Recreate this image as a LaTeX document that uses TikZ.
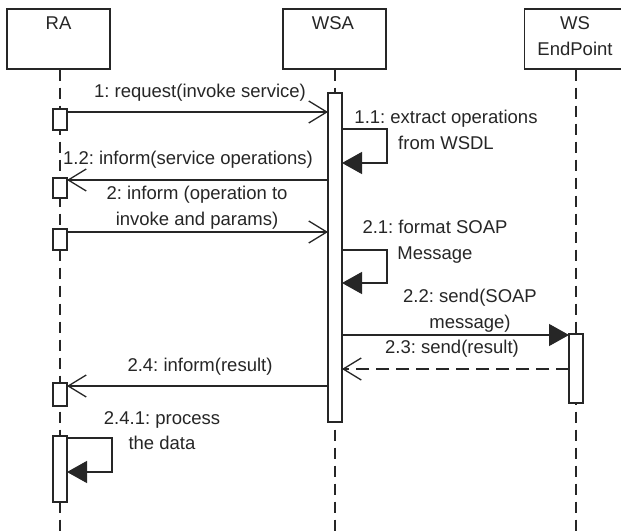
\documentclass[tikz,border=0pt]{standalone}
\usepackage{fontspec}
\setmainfont{Liberation Sans}
\usetikzlibrary{arrows.meta}
\definecolor{ink}{HTML}{262626}
\frenchspacing
\tikzset{
  every node/.style={font=\fontsize{18.5}{25.5}\selectfont, text=ink},
  headbox/.style={draw=ink, line width=1.3pt, minimum width=103pt, minimum height=60pt, inner sep=0pt, fill=white},
  actbox/.style={draw=ink, line width=1.3pt, minimum width=14pt, inner sep=0pt, fill=white},
  lifeline/.style={draw=ink, line width=1.3pt, dash pattern=on 11pt off 7pt},
  msg/.style={draw=ink, line width=1.3pt, -{Straight Barb[length=18pt,width=22pt,line width=1.3pt]}},
  callmsg/.style={draw=ink, line width=1.3pt, -{Triangle[length=20pt,width=22pt]}},
  retmsg/.style={draw=ink, line width=1.3pt, dash pattern=on 13pt off 7pt, -{Straight Barb[length=18pt,width=22pt,line width=1.3pt]}},
  lbl/.style={align=center, inner sep=0pt}
}
\begin{document}
\begin{tikzpicture}[x=1pt,y=-1pt]
\useasboundingbox[fill=white] (0,0) rectangle (621,532);
% head boxes
\node[headbox] (ra) at (58.5,39) {};
\node[headbox] (wsa) at (334.5,39) {};
\node[headbox] (ws) at (576,39) {};
\node[lbl] (raT) at (58.5,23) {RA};
\node[lbl] (wsaT) at (333,23) {WSA};
\node[lbl] (wsT) at (575,23) {WS};
\node[lbl] (wsT2) at (575,49) {EndPoint};
% lifeline ends
\coordinate (raEnd) at (60,532);
\coordinate (wsaEnd) at (335,532);
\coordinate (wsEnd) at (576,532);
\draw[lifeline] (ra.south -| raEnd) -- (raEnd);
\draw[lifeline] (wsa.south -| wsaEnd) -- (wsaEnd);
\draw[lifeline] (ws.south -| wsEnd) -- (wsEnd);
% activations
\node[actbox, minimum height=21pt] (ra1) at (60,119.5) {};
\node[actbox, minimum height=20pt] (ra2) at (60,188) {};
\node[actbox, minimum height=21pt] (ra3) at (60,239.5) {};
\node[actbox, minimum height=23pt] (ra4) at (60,394.5) {};
\node[actbox, minimum height=66pt] (ra5) at (60,469) {};
\node[actbox, minimum height=329pt] (wsaA) at (335,257.5) {};
\node[actbox, minimum height=69pt] (wsA) at (576,368.5) {};
% message anchor coordinates
\coordinate (m1s) at (67,112);  \coordinate (m1e) at (328,112);
\coordinate (l1a) at (342,129); \coordinate (l1b) at (387,129);
\coordinate (l1c) at (387,163); \coordinate (l1d) at (342,163);
\coordinate (m12s) at (328,180); \coordinate (m12e) at (67,180);
\coordinate (m2s) at (67,232);  \coordinate (m2e) at (328,232);
\coordinate (l2a) at (342,250); \coordinate (l2b) at (387,250);
\coordinate (l2c) at (387,283); \coordinate (l2d) at (342,283);
\coordinate (m22s) at (342,335); \coordinate (m22e) at (569,335);
\coordinate (m23s) at (569,369); \coordinate (m23e) at (342,369);
\coordinate (m24s) at (328,386); \coordinate (m24e) at (67,386);
\coordinate (l3a) at (67,438); \coordinate (l3b) at (112,438);
\coordinate (l3c) at (112,472); \coordinate (l3d) at (67,472);
% messages
\draw[msg] (m1s) -- (m1e);
\draw[callmsg] (l1a) -- (l1b) -- (l1c) -- (l1d);
\draw[msg] (m12s) -- (m12e);
\draw[msg] (m2s) -- (m2e);
\draw[callmsg] (l2a) -- (l2b) -- (l2c) -- (l2d);
\draw[callmsg] (m22s) -- (m22e);
\draw[retmsg] (m23s) -- (m23e);
\draw[msg] (m24s) -- (m24e);
\draw[callmsg] (l3a) -- (l3b) -- (l3c) -- (l3d);
% labels
\node[lbl] (t1) at (200,93) {1: request(invoke service)};
\node[lbl] (t11) at (446,130) {1.1: extract operations\\from WSDL};
\node[lbl] (t12) at (188,160) {1.2: inform(service operations)};
\node[lbl] (t2) at (197,207.5) {2: inform (operation to\\invoke and params)};
\node[lbl] (t21) at (435,241.5) {2.1: format SOAP\\Message};
\node[lbl] (t22) at (470,310.5) {2.2: send(SOAP\\message)};
\node[lbl] (t23) at (452,349) {2.3: send(result)};
\node[lbl] (t24) at (200,367) {2.4: inform(result)};
\node[lbl] (t241) at (162,430.5) {2.4.1: process\\the data};
\end{tikzpicture}
\end{document}
